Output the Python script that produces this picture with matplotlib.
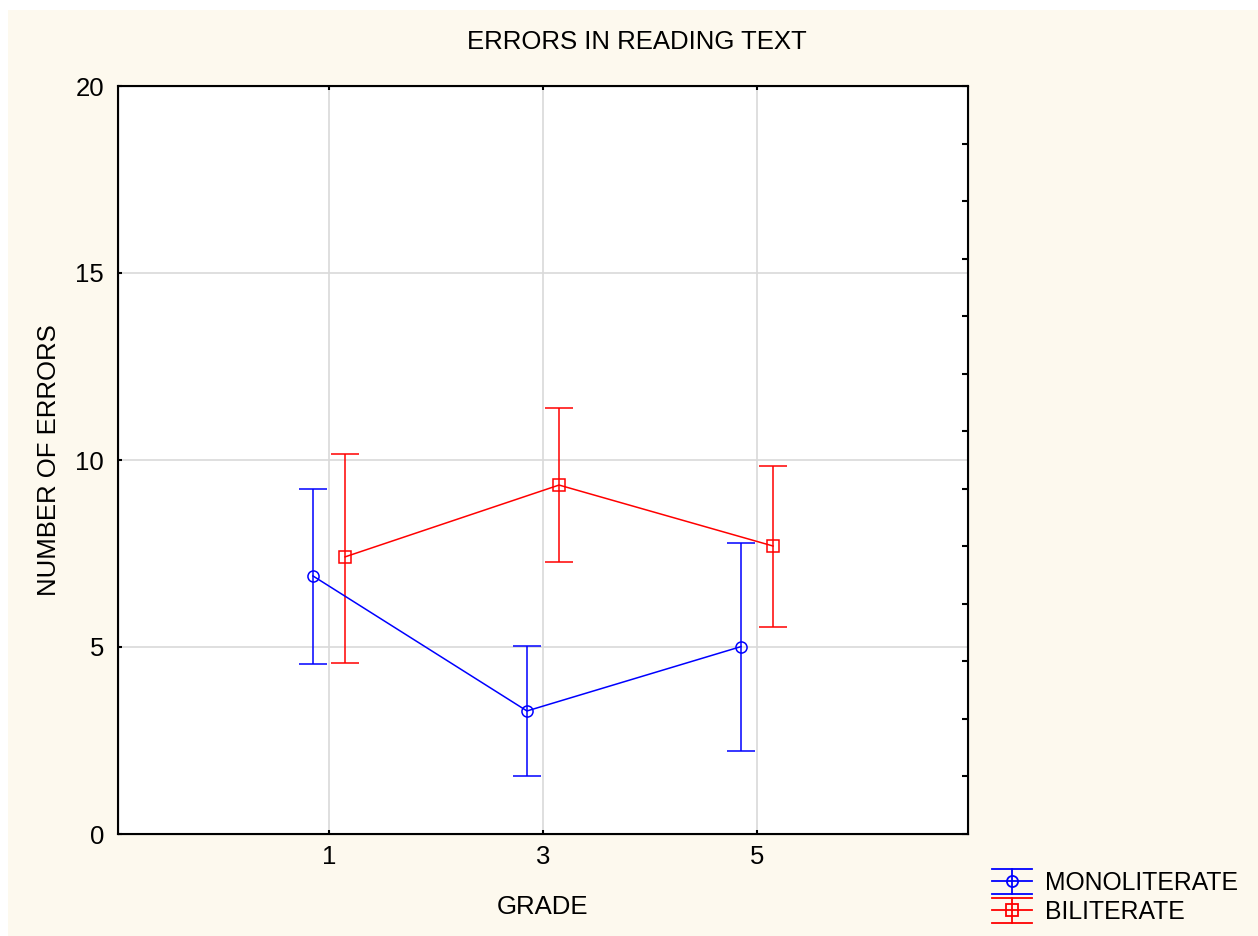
import numpy as np
import matplotlib
matplotlib.use("Agg")
import matplotlib.pyplot as plt
from matplotlib.patches import Rectangle
from matplotlib.lines import Line2D
from matplotlib.legend_handler import HandlerBase

plt.rcParams['font.family'] = ['Liberation Sans', 'DejaVu Sans']

grades = ["1", "3", "5"]
mono_mean = [6.90, 3.29, 5.01]
mono_low = [4.55, 1.55, 2.22]
mono_high = [9.22, 5.02, 7.78]
bili_mean = [7.41, 9.33, 7.70]
bili_low = [4.57, 7.28, 5.53]
bili_high = [10.15, 11.39, 9.84]

cream = "#fdf9ee"
FS = 18.5


class CapHandler(HandlerBase):
    # legend key in the Statistica style: full-width caps above and below
    def create_artists(self, legend, orig_handle, xdescent, ydescent,
                       width, height, fontsize, trans):
        c = orig_handle.get_color()
        m = orig_handle.get_marker()
        cy = height / 2 - ydescent
        cx = width / 2 - xdescent
        h = 0.5 * fontsize
        x0, x1 = -xdescent, width - xdescent
        kw = dict(color=c, linewidth=1.3, transform=trans)
        arts = [
            Line2D([x0, x1], [cy, cy], **kw),
            Line2D([x0, x1], [cy + h, cy + h], **kw),
            Line2D([x0, x1], [cy - h, cy - h], **kw),
            Line2D([cx, cx], [cy - h, cy + h], **kw),
            Line2D([cx], [cy], marker=m, markersize=8, markerfacecolor="none",
                   markeredgecolor=c, markeredgewidth=1.3, linestyle="none",
                   transform=trans),
        ]
        return arts


fig = plt.figure(figsize=(12.58, 9.36), dpi=100)
fig.patch.set_facecolor("white")
fig.patches.append(Rectangle((8 / 1258, 0), 1, 1 - 10 / 936, transform=fig.transFigure,
                             facecolor=cream, edgecolor="none", zorder=-10))

ax = fig.add_axes([118 / 1258, 1 - 834 / 936, 850 / 1258, 748 / 936])
ax.set_facecolor("white")

x = np.arange(len(grades))
off = 0.075

def draw(xpos, mean, low, high, color, marker):
    mean = np.array(mean)
    yerr = [mean - np.array(low), np.array(high) - mean]
    ax.errorbar(xpos, mean, yerr=yerr, color=color, marker=marker, markersize=8,
                markerfacecolor="none", markeredgecolor=color, markeredgewidth=1.1,
                linewidth=1.1, capsize=10, capthick=1.1, elinewidth=1.1, zorder=3)

draw(x - off, mono_mean, mono_low, mono_high, "#0000ff", "o")
draw(x + off, bili_mean, bili_low, bili_high, "#ff0000", "s")

ax.set_xlim(-0.986, 2.986)
ax.set_ylim(0, 20)
ax.set_xticks(x)
ax.set_xticklabels(grades)
ax.set_yticks([0, 5, 10, 15, 20])
ax.grid(True, color="#d9d9d9", linewidth=1.2, zorder=0)
ax.set_axisbelow(True)
for s in ax.spines.values():
    s.set_linewidth(1.5)
    s.set_color("black")
ax.tick_params(axis="both", direction="in", length=3, width=1.5, labelsize=FS, pad=8,
               top=True)
ax.tick_params(axis="y", right=False, pad=10)

# right-hand minor ticks
ax2 = ax.twinx()
ax2.set_ylim(0, 20)
ax2.set_yticks(np.linspace(0, 20, 14))
ax2.tick_params(axis="y", direction="in", length=4, width=1.5, labelright=False)

ax.set_xlabel("GRADE", fontsize=FS, labelpad=19)
ax.set_ylabel("NUMBER OF ERRORS", fontsize=FS, labelpad=10)
fig.text(0.506, 1 - 42 / 936, "ERRORS IN READING TEXT", fontsize=FS, ha="center", va="center")

handles = [Line2D([], [], color="#0000ff", marker="o"),
           Line2D([], [], color="#ff0000", marker="s")]
ax.legend(handles, ["MONOLITERATE", "BILITERATE"],
          handler_map={Line2D: CapHandler()},
          loc="lower left", bbox_to_anchor=(992 / 1258, 12 / 936), bbox_transform=fig.transFigure,
          frameon=False, fontsize=17.8, handlelength=1.6, handletextpad=0.55, labelspacing=0.2,
          borderaxespad=0, borderpad=0)

fig.savefig("out.png", dpi=100, facecolor=fig.get_facecolor())
